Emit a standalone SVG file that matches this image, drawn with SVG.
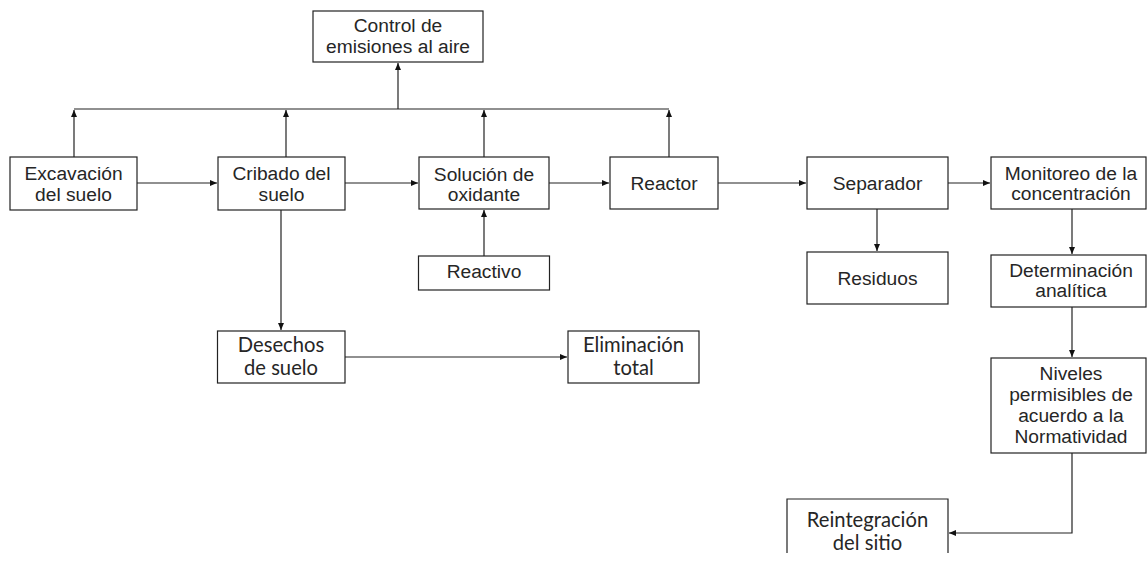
<svg xmlns="http://www.w3.org/2000/svg" width="1147" height="563" viewBox="0 0 1147 563">
  <style>
    .box { fill: #ffffff; stroke: #222222; stroke-width: 1.2; }
    .t { font-family: "Liberation Sans", Arial, sans-serif; font-size: 19.2px; fill: #262626; text-anchor: middle; }
    .c { font-family: Lato, "Liberation Sans", sans-serif; font-size: 20.2px; fill: #262626; text-anchor: middle; }
    .edge { fill: none; stroke: #222222; stroke-width: 1.2; }
    .arr { marker-end: url(#head); }
  </style>
  <defs>
    <marker id="head" markerUnits="userSpaceOnUse" markerWidth="8" markerHeight="8" refX="7" refY="3" orient="auto">
      <path d="M0,0 L7,3 L0,6 z" fill="#111111"/>
    </marker>
  </defs>

  <rect width="1147" height="563" fill="#ffffff"/>

  <!-- connectors -->
  <g id="connectors">
    <!-- emission collector line -->
    <path class="edge" d="M74,109 H669"/>
    <path class="edge arr" d="M398,109 V63"/>
    <path class="edge arr" d="M74,157 V110"/>
    <path class="edge arr" d="M286,157 V110"/>
    <path class="edge arr" d="M484,157 V110"/>
    <path class="edge arr" d="M669,157 V110"/>
    <!-- main process line -->
    <path class="edge arr" d="M137,183 H217"/>
    <path class="edge arr" d="M345,183 H418"/>
    <path class="edge arr" d="M549,183 H609"/>
    <path class="edge arr" d="M718,183 H806"/>
    <path class="edge arr" d="M948,183 H990"/>
    <!-- branches -->
    <path class="edge arr" d="M484,256 V210"/>
    <path class="edge arr" d="M281,210 V330"/>
    <path class="edge arr" d="M345,357 H567"/>
    <path class="edge arr" d="M877,209 V251"/>
    <path class="edge arr" d="M1072,209 V254"/>
    <path class="edge arr" d="M1072,307 V357"/>
    <path class="edge arr" d="M1072,453 V533 H949"/>
  </g>

  <g id="control">
    <rect class="box" x="313" y="11" width="170" height="51"/>
    <text class="t" x="398" y="32">Control de</text>
    <text class="t" x="398" y="53">emisiones al aire</text>
  </g>

  <g id="excavacion">
    <rect class="box" x="10" y="157" width="127" height="53"/>
    <text class="t" x="73.5" y="180">Excavación</text>
    <text class="t" x="73.5" y="201">del suelo</text>
  </g>

  <g id="cribado">
    <rect class="box" x="218" y="157" width="127" height="53"/>
    <text class="t" x="281.5" y="180">Cribado del</text>
    <text class="t" x="281.5" y="201">suelo</text>
  </g>

  <g id="solucion">
    <rect class="box" x="419" y="157" width="130" height="52"/>
    <text class="t" x="484" y="180.5">Solución de</text>
    <text class="t" x="484" y="200.5">oxidante</text>
  </g>

  <g id="reactor">
    <rect class="box" x="610" y="157" width="108" height="52"/>
    <text class="t" x="664" y="190">Reactor</text>
  </g>

  <g id="separador">
    <rect class="box" x="807" y="157" width="141" height="52"/>
    <text class="t" x="877.5" y="190">Separador</text>
  </g>

  <g id="monitoreo">
    <rect class="box" x="991" y="157" width="155" height="52"/>
    <text class="t" x="1071" y="180">Monitoreo de la</text>
    <text class="t" x="1071" y="200">concentración</text>
  </g>

  <g id="reactivo">
    <rect class="box" x="418.5" y="256" width="131" height="34"/>
    <text class="t" x="484" y="277.5">Reactivo</text>
  </g>

  <g id="residuos">
    <rect class="box" x="807" y="252" width="141" height="52"/>
    <text class="t" x="877.5" y="285">Residuos</text>
  </g>

  <g id="determinacion">
    <rect class="box" x="991" y="255" width="155" height="52"/>
    <text class="t" x="1071" y="276.5">Determinación</text>
    <text class="t" x="1071" y="296.5">analítica</text>
  </g>

  <g id="desechos">
    <rect class="box" x="217.5" y="331" width="127.5" height="52"/>
    <text class="c" x="281" y="351.5">Desechos</text>
    <text class="c" x="281" y="375">de suelo</text>
  </g>

  <g id="eliminacion">
    <rect class="box" x="568" y="331" width="131" height="52"/>
    <text class="c" x="633.5" y="351.5">Eliminación</text>
    <text class="c" x="633.5" y="375">total</text>
  </g>

  <g id="niveles">
    <rect class="box" x="991" y="358" width="155" height="95"/>
    <text class="t" x="1071" y="380">Niveles</text>
    <text class="t" x="1071" y="401">permisibles de</text>
    <text class="t" x="1071" y="422">acuerdo a la</text>
    <text class="t" x="1071" y="443">Normatividad</text>
  </g>

  <g id="reintegracion">
    <path class="box" d="M787,553 V499 H948 V553"/>
    <text class="c" x="867.5" y="526.5">Reintegración</text>
    <text class="c" x="867.5" y="550">del sitio</text>
  </g>
</svg>
